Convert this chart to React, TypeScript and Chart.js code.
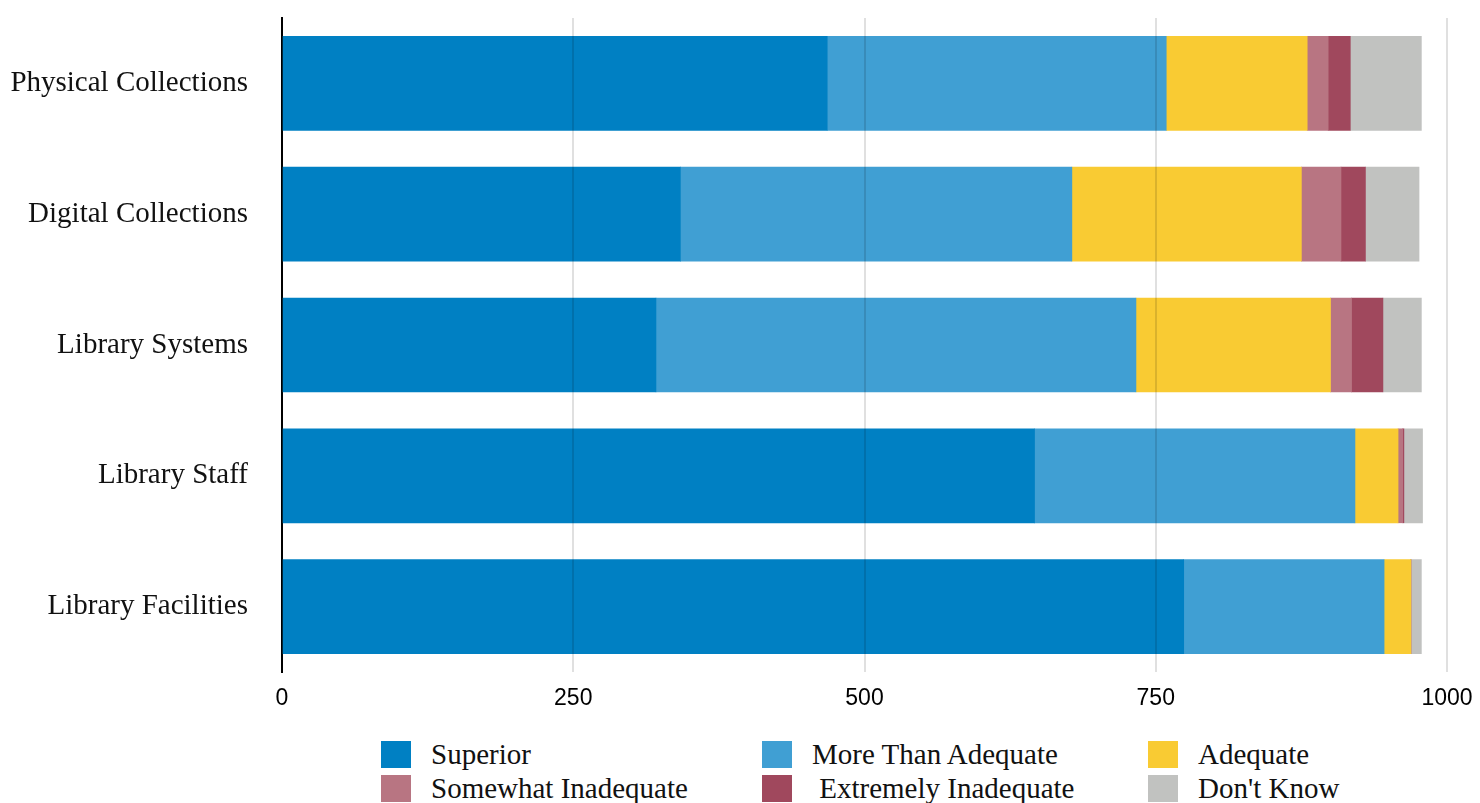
import React, { useEffect, useRef } from "react";
import { Chart, registerables } from "chart.js";

Chart.register(...registerables);

const categories = [
  "Physical Collections",
  "Digital Collections",
  "Library Systems",
  "Library Staff",
  "Library Facilities",
];

const superior = [468, 342, 321, 646, 774];
const moreThanAdequate = [291, 336, 412, 275, 172];
const adequate = [121, 197, 167, 37, 23];
const somewhatInadequate = [18, 34, 18, 4, 0];
const extremelyInadequate = [19, 21, 27, 1, 0];
const dontKnow = [61, 46, 33, 16, 9];

const xTicks = [0, 250, 500, 750, 1000];

const seriesNames = [
  "Superior",
  "More Than Adequate",
  "Adequate",
  "Somewhat Inadequate",
  " Extremely Inadequate",
  "Don't Know",
];
const seriesColors = ["#0080C3", "#409FD3", "#F9CB33", "#B87582", "#A0485D", "#C1C2C0"];
const seriesData = [
  superior,
  moreThanAdequate,
  adequate,
  somewhatInadequate,
  extremelyInadequate,
  dontKnow,
];

const SERIF = "'Liberation Serif', 'DejaVu Serif', serif";

export default function App() {
  const ref = useRef<HTMLCanvasElement | null>(null);

  useEffect(() => {
    if (!ref.current) return;
    const chart = new Chart(ref.current, {
      type: "bar",
      data: {
        labels: categories,
        datasets: seriesNames.map((name, i) => ({
          label: name,
          data: seriesData[i],
          backgroundColor: seriesColors[i],
          borderWidth: 0,
          barThickness: 94,
        })),
      },
      options: {
        indexAxis: "y",
        animation: false,
        responsive: false,
        maintainAspectRatio: false,
        layout: { padding: { top: 18, right: 33, left: 0, bottom: 0 } },
        plugins: {
          legend: { display: false },
          tooltip: { enabled: false },
        },
        scales: {
          x: {
            stacked: true,
            min: 0,
            max: 1000,
            afterBuildTicks: (scale: any) => {
              scale.ticks = xTicks.map((v) => ({ value: v }));
            },
            afterFit: (scale: any) => {
              scale.height = 48;
              scale.paddingLeft = 0;
              scale.paddingRight = 0;
            },
            grid: {
              color: "rgba(0,0,0,0.12)",
              lineWidth: 2,
              drawTicks: false,
              z: 1,
            },
            border: { display: false },
            ticks: {
              color: "#000",
              padding: 13,
              callback: (v: any) => String(v),
              font: { family: "'Liberation Sans', Arial, sans-serif", size: 23 },
            },
          },
          y: {
            stacked: true,
            afterFit: (scale: any) => {
              scale.width = 282;
              scale.paddingTop = 0;
              scale.paddingBottom = 0;
            },
            grid: { display: false, drawTicks: false },
            border: { display: true, color: "#000", width: 2 },
            ticks: {
              color: "#111",
              padding: 34,
              font: { family: SERIF, size: 29 },
            },
          },
        },
      },
    });
    return () => chart.destroy();
  }, []);

  const legendCols = [381, 762, 1148];
  const legendRows = [741, 775];

  return (
    <div
      style={{
        position: "absolute",
        left: 0,
        top: 0,
        width: 1480,
        height: 803,
        background: "#fff",
        overflow: "hidden",
      }}
    >
      <canvas ref={ref} width={1480} height={720} style={{ display: "block" }} />
      {seriesNames.map((name, i) => {
        const col = i % 3;
        const row = Math.floor(i / 3);
        return (
          <div
            key={name}
            style={{
              position: "absolute",
              left: legendCols[col],
              top: legendRows[row],
              height: 27,
              display: "flex",
              alignItems: "center",
              whiteSpace: "pre",
            }}
          >
            <span
              style={{
                display: "inline-block",
                width: 30,
                height: 27,
                background: seriesColors[i],
                marginRight: 20,
                flex: "none",
              }}
            />
            <span style={{ fontFamily: SERIF, fontSize: 29, color: "#111", lineHeight: "27px" }}>
              {name}
            </span>
          </div>
        );
      })}
    </div>
  );
}
